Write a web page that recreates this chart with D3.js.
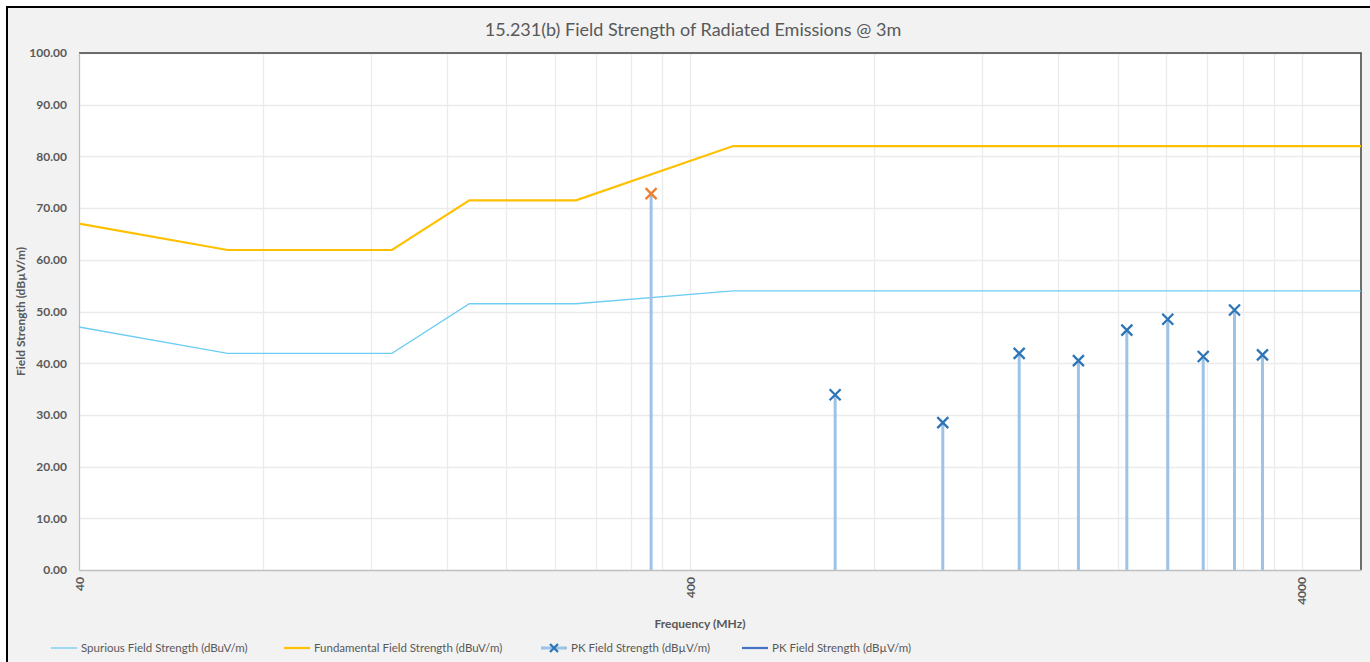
<!DOCTYPE html>
<html>
<head>
<meta charset="utf-8">
<script src="https://cdn.jsdelivr.net/npm/d3@7"></script>
<style>
  html, body { margin: 0; padding: 0; background: #ffffff; }
  svg { display: block; }
  text { font-family: Lato, "Open Sans", sans-serif; fill: #595959; }
</style>
</head>
<body>
<svg id="chart" width="1370" height="662"></svg>
<script>
// Limit lines (MHz -> dBuV/m)
const limitFreq        = [40, 70, 130, 174, 260, 470, 5000];
const fundamentalLimit = [67.0, 61.9, 61.9, 71.5, 71.5, 82.0, 82.0];
const spuriousLimit    = [47.0, 41.9, 41.9, 51.5, 51.5, 54.0, 54.0];

// Measured peak emissions: fundamental at 345 MHz and its harmonics
const peakFreq   = [345, 690, 1035, 1380, 1725, 2070, 2415, 2760, 3105, 3450];
const peakValues = [72.8, 33.9, 28.5, 41.9, 40.5, 46.4, 48.5, 41.3, 50.3, 41.6];

const xTickValues = [40, 400, 4000];
const yTickValues = [0, 10, 20, 30, 40, 50, 60, 70, 80, 90, 100];

const legendLabels = [
  "Spurious Field Strength (dBuV/m)",
  "Fundamental Field Strength (dBuV/m)",
  "PK Field Strength (dBµV/m)",
  "PK Field Strength (dBµV/m)"
];

const svg = d3.select("#chart");
const W = 1370, H = 662;
const plot = { left: 79, top: 53, right: 1361, bottom: 570 };

// chart frame
svg.append("rect").attr("x", 7).attr("y", 7).attr("width", W).attr("height", H)
  .attr("fill", "#f2f2f2").attr("stroke", "#000").attr("stroke-width", 2);

const x = d3.scaleLog().domain([40, 5000]).range([plot.left, plot.right]);
const y = d3.scaleLinear().domain([0, 100]).range([plot.bottom, plot.top]);

svg.append("rect")
  .attr("x", plot.left).attr("y", plot.top)
  .attr("width", plot.right - plot.left).attr("height", plot.bottom - plot.top)
  .attr("fill", "#ffffff");

// minor vertical gridlines: 2..9 times each decade start
const minorGrid = [];
for (const base of [40, 400, 4000]) {
  for (let k = 2; k <= 9; k++) {
    const v = base * k;
    if (v < 5000) minorGrid.push(v);
  }
}
const grid = svg.append("g");
grid.selectAll("line.vg").data(minorGrid.concat([400, 4000])).join("line")
  .attr("x1", d => Math.round(x(d)) + 0.5).attr("x2", d => Math.round(x(d)) + 0.5)
  .attr("y1", plot.top).attr("y2", plot.bottom)
  .attr("stroke", "#ebebeb").attr("stroke-width", 1.3);
grid.selectAll("line.hg").data(yTickValues.slice(1)).join("line")
  .attr("x1", plot.left).attr("x2", plot.right)
  .attr("y1", d => Math.round(y(d)) + 0.5).attr("y2", d => Math.round(y(d)) + 0.5)
  .attr("stroke", "#ebebeb").attr("stroke-width", 1.3);

// plot border (top/right dark)
svg.append("path")
  .attr("d", `M${plot.left},${plot.top}H${plot.right}V${plot.bottom}`)
  .attr("fill", "none").attr("stroke", "#404040").attr("stroke-width", 1.5);

// axes
const yAxis = svg.append("g").attr("transform", `translate(${plot.left},0)`)
  .call(d3.axisLeft(y).tickValues(yTickValues).tickSize(0).tickPadding(12)
    .tickFormat(d => d3.format(".2f")(d)));
yAxis.select(".domain").attr("stroke", "#bfbfbf").attr("stroke-width", 1.3);
yAxis.selectAll("text").style("font-size", "12px").style("font-weight", "bold")
  .attr("fill", "#595959");

const xAxis = svg.append("g").attr("transform", `translate(0,${plot.bottom})`)
  .call(d3.axisBottom(x).tickValues(xTickValues).tickSize(0)
    .tickFormat(d3.format("d")));
xAxis.select(".domain").attr("stroke", "#bfbfbf").attr("stroke-width", 1.3);
xAxis.selectAll("text")
  .attr("transform", "rotate(-90)")
  .attr("x", -7).attr("y", 0).attr("dy", "0.35em")
  .attr("text-anchor", "end")
  .style("font-size", "12px").style("font-weight", "bold").attr("fill", "#595959");

// limit lines
const lineGen = (vals) => d3.line()
  .x((d, i) => x(limitFreq[i]))
  .y((d) => y(d))(vals);

svg.append("path").attr("d", lineGen(spuriousLimit))
  .attr("fill", "none").attr("stroke", "#6fcdf3").attr("stroke-width", 1.3);
svg.append("path").attr("d", lineGen(fundamentalLimit))
  .attr("fill", "none").attr("stroke", "#ffc000").attr("stroke-width", 2.2);

// peak stems
const peaks = peakFreq.map((f, i) => ({ f, v: peakValues[i], fund: i === 0 }));
svg.append("g").selectAll("line").data(peaks).join("line")
  .attr("x1", d => x(d.f)).attr("x2", d => x(d.f))
  .attr("y1", y(0)).attr("y2", d => y(d.v))
  .attr("stroke", "#9dc3e6").attr("stroke-width", 3);

// X markers
const mk = 5.5;
const markerPath = `M${-mk},${-mk}L${mk},${mk}M${-mk},${mk}L${mk},${-mk}`;
svg.append("g").selectAll("path").data(peaks).join("path")
  .attr("transform", d => `translate(${x(d.f)},${y(d.v)})`)
  .attr("d", markerPath)
  .attr("fill", "none")
  .attr("stroke", d => d.fund ? "#ed7d31" : "#2e75b6")
  .attr("stroke-width", 2.3);

// titles
svg.append("text").attr("x", 693).attr("y", 36).attr("text-anchor", "middle")
  .style("font-size", "18px").text("15.231(b) Field Strength of Radiated Emissions @ 3m");

svg.append("text").attr("x", 700).attr("y", 628).attr("text-anchor", "middle")
  .style("font-size", "12px").style("font-weight", "bold").text("Frequency (MHz)");

svg.append("text")
  .attr("transform", `translate(25,${(plot.top + plot.bottom) / 2}) rotate(-90)`)
  .attr("text-anchor", "middle")
  .style("font-size", "12px").style("font-weight", "bold").text("Field Strength (dBµV/m)");

// legend
const legendX = [51, 284, 541, 742];
const legendColor = ["#6fcdf3", "#ffc000", "#9dc3e6", "#4472c4"];
const legendY = 648;
const lg = svg.append("g");
legendLabels.forEach((label, i) => {
  const g = lg.append("g").attr("transform", `translate(${legendX[i]},${legendY})`);
  g.append("line").attr("x1", 0).attr("x2", 26).attr("y1", 0).attr("y2", 0)
    .attr("stroke", legendColor[i]).attr("stroke-width", i === 2 ? 3 : (i === 0 ? 1.3 : 2.2));
  if (i === 2) {
    const m = 4;
    g.append("path").attr("transform", "translate(13,0)")
      .attr("d", `M${-m},${-m}L${m},${m}M${-m},${m}L${m},${-m}`)
      .attr("stroke", "#2e75b6").attr("stroke-width", 2.3).attr("fill", "none");
  }
  g.append("text").attr("x", 30).attr("y", 0).attr("dy", "0.35em")
    .style("font-size", "11.5px").text(label);
});
</script>
</body>
</html>
